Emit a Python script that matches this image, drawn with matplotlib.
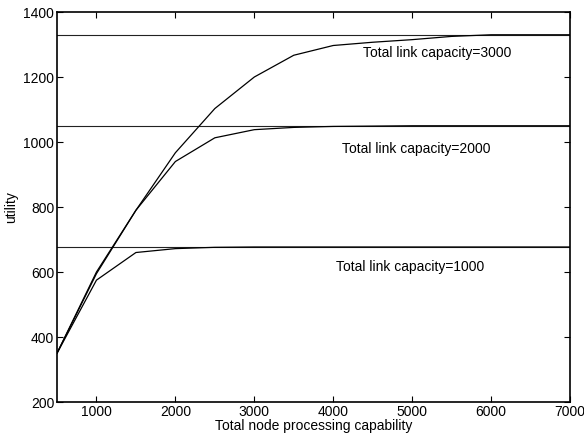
import matplotlib
matplotlib.use("Agg")
from matplotlib import pyplot as plt
import numpy as np

plt.rcParams['font.family'] = ['Liberation Sans', 'DejaVu Sans']

# total node processing capability
node_cap = [500, 1000, 1500, 2000, 2500, 3000, 3500, 4000, 4500, 5000, 5500, 6000, 6500, 7000]

# utility for each total link capacity
util_1000 = [350, 575, 660, 672, 676, 677, 677, 677, 677, 677, 677, 677, 677, 677]
util_2000 = [350, 595, 790, 940, 1013, 1038, 1045, 1048, 1049, 1050, 1050, 1050, 1050, 1050]
util_3000 = [350, 600, 790, 967, 1103, 1200, 1267, 1297, 1307, 1315, 1325, 1330, 1330, 1330]

# upper bounds (horizontal lines)
bounds = [677, 1050, 1330]
labels = ['Total link capacity=1000', 'Total link capacity=2000', 'Total link capacity=3000']
label_x = [4975, 5050, 5316]
label_y = [615, 978, 1274]

fig = plt.figure(figsize=(5.84, 4.34), dpi=100)
ax = fig.add_axes([0.0976, 0.0737, 0.8784, 0.8986])

for b in bounds:
    ax.axhline(b, color='#222222', lw=0.8)

for u in [util_1000, util_2000, util_3000]:
    ax.plot(node_cap, u, color='black', lw=0.9)

for t, x, y in zip(labels, label_x, label_y):
    ax.text(x, y, t, ha='center', va='center', fontsize=10)

ax.set_xlim(500, 7000)
ax.set_ylim(200, 1400)
ax.set_xticks([1000, 2000, 3000, 4000, 5000, 6000, 7000])
ax.set_yticks([200, 400, 600, 800, 1000, 1200, 1400])
ax.tick_params(direction='in', top=True, right=True, labelsize=10, length=4, pad=2)
for s in ax.spines.values():
    s.set_linewidth(1.2)

ax.set_xlabel('Total node processing capability', fontsize=10, labelpad=0)
ax.set_ylabel('utility', fontsize=10, labelpad=4)

fig.savefig('out.png', dpi=100)
